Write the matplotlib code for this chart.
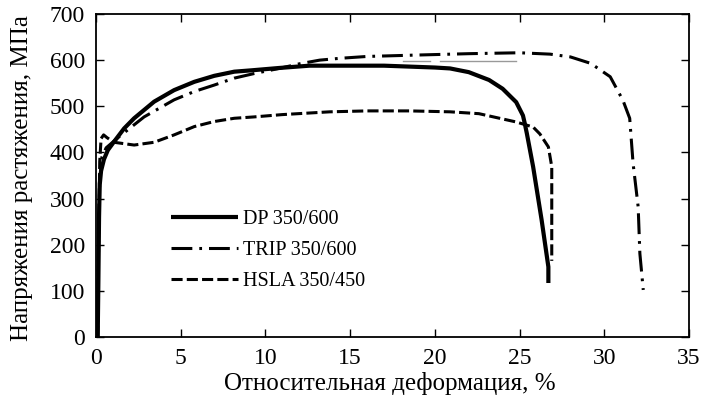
import numpy as np
import matplotlib
matplotlib.use("Agg")
import matplotlib.pyplot as plt

plt.rcParams['font.family'] = ['Liberation Serif', 'DejaVu Serif']
plt.rcParams['lines.scale_dashes'] = False

dp_x = [0.10, 0.14, 0.18, 0.22, 0.30, 0.47, 0.70, 1.06, 1.66, 2.25, 3.43, 4.61, 5.80, 6.98, 8.16,
        9.2, 10.8, 12.6, 15.0, 17.0, 18.5, 20.0, 20.9, 22.0, 23.2, 24.0, 24.8, 25.2, 25.3, 25.43,
        25.8, 26.3, 26.7, 26.7]
dp_y = [0, 120, 260, 330, 360, 385, 405, 423, 452, 474, 510, 535, 553, 566, 575,
        578, 583, 588, 588, 588, 586, 584, 582, 574, 557, 538, 509, 480, 464, 441,
        369, 254, 152, 117]

trip_x = [0.10, 0.15, 0.22, 0.35, 0.60, 1.36, 2.84, 4.61, 5.80, 6.98, 8.16, 9.34, 10.8, 12.0,
          13.2, 14.4, 16.0, 18.9, 22.0, 25.0, 26.8, 28.0, 29.2, 30.35, 31.1, 31.5, 31.7, 32.0,
          32.1, 32.3]
trip_y = [0, 200, 340, 390, 410, 434, 477, 514, 532, 546, 561, 571, 582, 592,
          600, 604, 608, 611, 614, 616, 613, 607, 593, 564, 513, 474, 376, 282,
          181, 102]

hsla_x = [0.10, 0.15, 0.22, 0.30, 0.45, 0.65, 1.06, 2.25, 3.43, 4.61, 5.80, 6.98, 8.16, 9.34,
          11.0, 13.8, 16.0, 18.5, 20.9, 22.6, 24.8, 25.8, 26.2, 26.7, 26.9, 26.9, 26.9]
hsla_y = [0, 200, 380, 430, 438, 432, 422, 416, 422, 438, 456, 467, 474, 477,
          482, 488, 490, 490, 488, 484, 466, 455, 440, 412, 369, 268, 165]

gray_x = [18.1, 19.7, np.nan, 20.3, 24.8]
gray_y = [598, 598, np.nan, 598, 598]

labels = ["DP 350/600", "TRIP 350/600", "HSLA 350/450"]
xticks = [0, 5, 10, 15, 20, 25, 30, 35]
yticks = [0, 100, 200, 300, 400, 500, 600, 700]

fig = plt.figure(figsize=(7.04, 4.03), dpi=100)
ax = fig.add_axes([96/704, 1 - 337/403, (689-96)/704, (337-14)/403])

ax.plot(gray_x, gray_y, color='#999999', lw=1.0)
ax.plot(dp_x, dp_y, color='black', lw=3.0, solid_joinstyle='round', solid_capstyle='butt',
        label=labels[0])
ax.plot(trip_x, trip_y, color='black', lw=2.2, dashes=(15, 5, 2, 5), label=labels[1])
ax.plot(hsla_x, hsla_y, color='black', lw=2.2, dashes=(8, 3), label=labels[2])

ax.set_xlim(0, 35)
ax.set_ylim(0, 700)
ax.set_xticks(xticks)
ax.set_yticks(yticks)
ax.tick_params(direction='in', length=6, width=1, top=True, right=True, labelsize=17)
ax.tick_params(axis='x', pad=8)
ax.tick_params(axis='y', pad=8)
for s in ax.spines.values():
    s.set_linewidth(1.3)

ax.set_xlabel("Относительная деформация, %", fontsize=18)
ax.set_ylabel("Напряжения растяжения, МПа", fontsize=18)
ax.xaxis.set_label_coords(0.495, -0.108)
ax.yaxis.set_label_coords(-0.106, 0.492)

ax.legend(loc='upper left', bbox_to_anchor=(0.113, 0.418), frameon=False, fontsize=14.5,
          handlelength=3.3, handletextpad=0.25, labelspacing=0.58, borderaxespad=0)

fig.savefig("out.png", dpi=100)
